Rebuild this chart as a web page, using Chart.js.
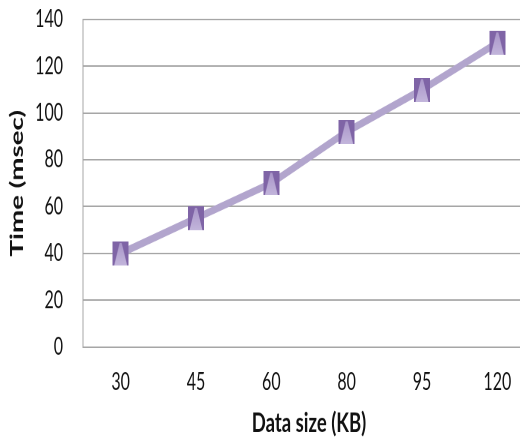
<!DOCTYPE html>
<html>
<head>
<meta charset="utf-8">
<script src="https://cdn.jsdelivr.net/npm/chart.js@4.4.1/dist/chart.umd.min.js"></script>
<style>
  html, body { margin: 0; padding: 0; background: #fff; overflow: hidden; width: 520px; height: 441px; }
  #wrap { width: 548px; height: 294px; transform: scaleY(1.5); transform-origin: 0 0; }
  canvas { display: block; }
</style>
</head>
<body>
<div id="wrap"><canvas id="chart" width="548" height="294"></canvas></div>
<script>
// Processing time versus data size
const dataSizes = ['30', '45', '60', '80', '95', '120'];
const timeMsec = [40, 55, 70, 92, 110, 130];
const yTicks = [0, 20, 40, 60, 80, 100, 120, 140];

// Square marker with a light triangle inside
function makeMarker() {
  const c = document.createElement('canvas');
  const s = 2;
  const w = 16, h = 16;
  c.width = w * s; c.height = h * s;
  const g = c.getContext('2d');
  g.scale(s, s);
  g.fillStyle = '#7f64a6';
  g.fillRect(0, 0, w, h);
  const grad = g.createLinearGradient(0, 0, 0, h);
  grad.addColorStop(0, '#a894c8');
  grad.addColorStop(1, '#c3b6dc');
  g.fillStyle = grad;
  g.beginPath();
  g.moveTo(w / 2 - 1, 1);
  g.lineTo(w / 2 + 1, 1);
  g.lineTo(w - 1.5, h);
  g.lineTo(1.5, h);
  g.closePath();
  g.fill();
  const img = new Image(w, h);
  img.src = c.toDataURL();
  return img;
}

const marker = makeMarker();
const fontFamily = 'Lato, "Open Sans", sans-serif';

function draw() {
  new Chart(document.getElementById('chart'), {
    type: 'line',
    data: {
      labels: dataSizes,
      datasets: [{
        data: timeMsec,
        borderColor: '#b2a5cd',
        borderWidth: 5,
        pointStyle: marker,
        pointRadius: 8,
        pointHoverRadius: 8,
        tension: 0
      }]
    },
    options: {
      responsive: false,
      animation: false,
      devicePixelRatio: 2,
      layout: { padding: { top: 11.3, right: 0, left: 0, bottom: 0 } },
      plugins: { legend: { display: false }, tooltip: { enabled: false } },
      scales: {
        x: {
          type: 'category',
          offset: true,
          grid: { display: false, drawTicks: false },
          border: { display: true, color: '#a6a6a6', width: 1 },
          ticks: { color: '#111', padding: 14, font: { family: fontFamily, size: 16 } },
          title: {
            display: true,
            text: 'Data size (KB)',
            color: '#111',
            padding: { top: 0, bottom: 1 },
            font: { family: fontFamily, size: 18.5, weight: 'bold' }
          },
          afterFit(scale) {
            scale.height = 62.7;
            scale.paddingLeft = 0;
            scale.paddingRight = 0;
          }
        },
        y: {
          min: 0,
          max: 140,
          afterBuildTicks(scale) { scale.ticks = yTicks.map(v => ({ value: v })); },
          grid: { color: '#a6a6a6', lineWidth: 1, drawTicks: false },
          border: { display: true, color: '#a6a6a6', width: 1 },
          ticks: { color: '#111', padding: 20, font: { family: fontFamily, size: 16 } },
          title: {
            display: true,
            text: 'Time (msec)',
            color: '#111',
            padding: { top: 6, bottom: 0 },
            font: { family: fontFamily, size: 18.5, weight: 'bold' }
          },
          afterFit(scale) {
            scale.width = 83;
            scale.paddingTop = 0;
            scale.paddingBottom = 0;
          }
        }
      }
    }
  });
}

if (marker.complete) draw(); else marker.onload = draw;
</script>
</body>
</html>
